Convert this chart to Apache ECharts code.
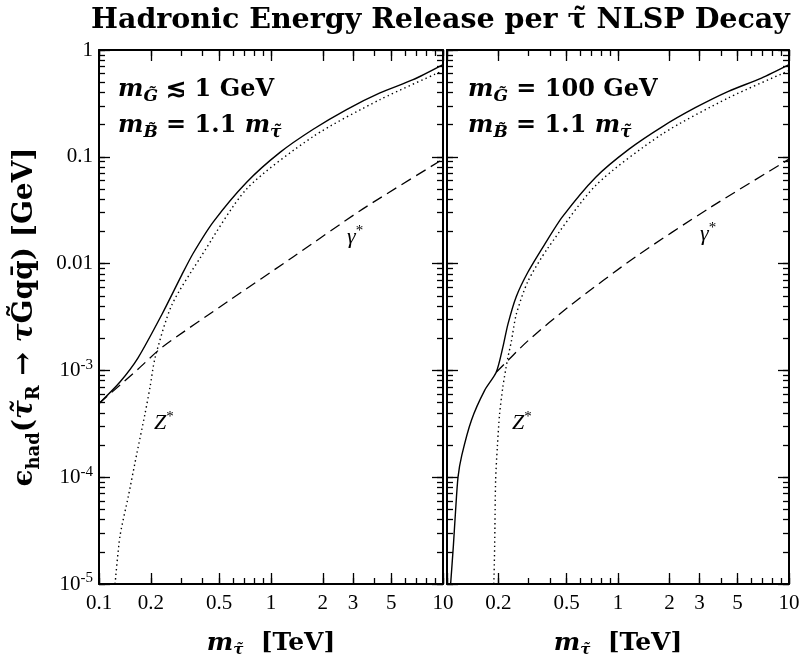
<!DOCTYPE html>
<html><head><meta charset="utf-8">
<script src="https://cdn.jsdelivr.net/npm/echarts@6/dist/echarts.min.js"></script>
<style>html,body{margin:0;padding:0;background:#fff}#c{width:803px;height:663px}</style>
</head><body><div id="c"></div>
<script>
// ---- tick labels ----
const xTickVals = [0.1, 0.2, 0.5, 1, 2, 3, 5, 10];
const xTickText = ['0.1', '0.2', '0.5', '1', '2', '3', '5', '10'];
const xTickValsRight = [0.2, 0.5, 1, 2, 3, 5, 10];
const yTickVals = [1e-5, 1e-4, 1e-3, 0.01, 0.1, 1];
const yTickText = ['{n|10}{p|-5}', '{n|10}{p|-4}', '{n|10}{p|-3}', '{n|0.01}', '{n|0.1}', '{n|1}'];

// ---- left panel: m_G <~ 1 GeV ----
const leftTotalX = [0.1, 0.1324, 0.169, 0.232, 0.303, 0.353, 0.462, 0.722, 1.128, 1.76, 2.75, 4.3, 6.7, 10];
const leftTotalY = [4.9e-4, 7.8e-4, 1.32e-3, 3.34e-3, 7.85e-3, 0.0125, 0.0246, 0.0578, 0.11, 0.181, 0.277, 0.396, 0.527, 0.73];
const leftZX = [0.124, 0.1324, 0.148, 0.166, 0.185, 0.198, 0.212, 0.265, 0.386, 0.722, 1.76, 4.3, 10];
const leftZY = [1e-5, 2.8e-5, 6.6e-5, 1.67e-4, 3.9e-4, 6.97e-4, 1.32e-3, 4.1e-3, 0.0112, 0.05, 0.155, 0.343, 0.64];
const leftGX = [0.1, 0.169, 0.232, 0.565, 1.35, 3.44, 10];
const leftGY = [4.9e-4, 1.03e-3, 1.64e-3, 4.45e-3, 0.0116, 0.0327, 0.095];

// ---- right panel: m_G = 100 GeV ----
const rightTotalX = [0.105, 0.109, 0.112, 0.116, 0.122, 0.139, 0.166, 0.194, 0.212, 0.227, 0.254, 0.297, 0.371, 0.474, 0.741, 1.16, 1.81, 2.83, 4.42, 6.9, 10];
const rightTotalY = [1e-5, 2.3e-5, 4.6e-5, 1.0e-4, 1.6e-4, 3.42e-4, 6.5e-4, 9.6e-4, 1.64e-3, 2.7e-3, 4.9e-3, 8.3e-3, 0.015, 0.0275, 0.0644, 0.118, 0.191, 0.288, 0.41, 0.546, 0.73];
const rightZX = [0.188, 0.190, 0.1925, 0.197, 0.203, 0.212, 0.220, 0.227, 0.238, 0.254, 0.297, 0.388, 0.741, 1.81, 4.42, 10];
const rightZY = [1e-5, 2.3e-5, 9.5e-5, 1.93e-4, 3.9e-4, 6.97e-4, 1.0e-3, 1.32e-3, 1.88e-3, 3.34e-3, 6.8e-3, 0.0139, 0.054, 0.163, 0.356, 0.64];
const rightGX = [0.194, 0.297, 0.531, 1.27, 3.38, 10];
const rightGY = [9.6e-4, 1.89e-3, 4.1e-3, 0.0116, 0.0327, 0.095];

const pairs = (xs, ys) => xs.map((x, i) => [x, ys[i]]);

// minor tick positions (log sub-decades)
const xMinor = [];
for (let k = -1; k <= 0; k++) for (let d = 1; d <= 9; d++) xMinor.push(d * Math.pow(10, k));
xMinor.push(10);
const yMinor = [];
for (let k = -5; k <= -1; k++) for (let d = 1; d <= 9; d++) yMinor.push(d * Math.pow(10, k));
yMinor.push(1);

const SERIF = '"Liberation Serif", "DejaVu Serif", serif';
const BOLD = '"DejaVu Serif", serif';

function near(v, arr) {
  let best = 0;
  for (let i = 1; i < arr.length; i++) if (Math.abs(Math.log10(arr[i]) - Math.log10(v)) < Math.abs(Math.log10(arr[best]) - Math.log10(v))) best = i;
  return best;
}

const xAxisName = '{m|m}{s|τ̃}{b|  [TeV]}';
const xNameRich = {
  m: { fontFamily: BOLD, fontWeight: 'bold', fontStyle: 'italic', fontSize: 25, color: '#000', lineHeight: 30, verticalAlign: 'middle' },
  s: { fontFamily: BOLD, fontWeight: 'bold', fontStyle: 'italic', fontSize: 15, color: '#000', lineHeight: 15, verticalAlign: 'bottom' },
  b: { fontFamily: BOLD, fontWeight: 'bold', fontSize: 25, color: '#000', lineHeight: 30, verticalAlign: 'middle' }
};

function xAxes(grid, labelVals) {
  const base = { type: 'log', logBase: 10, min: 0.1, max: 10, gridIndex: grid, splitLine: { show: false } };
  return [
    Object.assign({}, base, {
      position: 'bottom',
      axisLine: { show: true, lineStyle: { color: '#000', width: 2 } },
      axisTick: { show: true, inside: true, length: 11, customValues: xTickVals, lineStyle: { color: '#000', width: 1.3 } },
      axisLabel: { show: true, customValues: labelVals, margin: 9, fontFamily: SERIF, fontSize: 21, color: '#000',
        formatter: v => xTickText[near(v, xTickVals)] },
      name: xAxisName, nameLocation: 'middle', nameGap: 44,
      nameTextStyle: { rich: xNameRich }
    }),
    Object.assign({}, base, {
      position: 'bottom',
      axisLine: { show: false },
      axisTick: { show: true, inside: true, length: 6, customValues: xMinor, lineStyle: { color: '#000', width: 1.3 } },
      axisLabel: { show: false }
    }),
    Object.assign({}, base, {
      position: 'top',
      axisLine: { show: true, lineStyle: { color: '#000', width: 2 } },
      axisTick: { show: true, inside: true, length: 11, customValues: xTickVals, lineStyle: { color: '#000', width: 1.3 } },
      axisLabel: { show: false }
    }),
    Object.assign({}, base, {
      position: 'top',
      axisLine: { show: false },
      axisTick: { show: true, inside: true, length: 6, customValues: xMinor, lineStyle: { color: '#000', width: 1.3 } },
      axisLabel: { show: false }
    })
  ];
}

const yName = '{e|ϵ}{s|had}{e|(}{t|τ̃}{s|R}{e| → }{t|τ}{e|G̃qq̄) [GeV]}';
const yNameRich = {
  e: { fontFamily: BOLD, fontWeight: 'bold', fontSize: 28, color: '#000', lineHeight: 36, verticalAlign: 'middle' },
  t: { fontFamily: BOLD, fontWeight: 'bold', fontStyle: 'italic', fontSize: 28, color: '#000', lineHeight: 36, verticalAlign: 'middle' },
  s: { fontFamily: BOLD, fontWeight: 'bold', fontSize: 18, color: '#000', lineHeight: 18, verticalAlign: 'bottom' }
};

function yAxes(grid, showLabels) {
  const base = { type: 'log', logBase: 10, min: 1e-5, max: 1, gridIndex: grid, splitLine: { show: false } };
  const major = {
    position: 'left',
    axisLine: { show: true, lineStyle: { color: '#000', width: 2 } },
    axisTick: { show: true, inside: true, length: 11, customValues: yTickVals, lineStyle: { color: '#000', width: 1.3 } },
    axisLabel: { show: false }
  };
  if (showLabels) {
    major.axisLabel = { show: true, customValues: yTickVals, margin: 6, fontFamily: SERIF, fontSize: 21, color: '#000',
      formatter: v => yTickText[near(v, yTickVals)],
      rich: {
        n: { fontFamily: SERIF, fontSize: 21, color: '#000', lineHeight: 26, verticalAlign: 'middle' },
        p: { fontFamily: SERIF, fontSize: 15, color: '#000', lineHeight: 14, verticalAlign: 'top' }
      } };
    major.name = yName;
    major.nameLocation = 'middle';
    major.nameGap = 56;
    major.nameRotate = 90;
    major.nameTextStyle = { rich: yNameRich };
  }
  return [
    Object.assign({}, base, major),
    Object.assign({}, base, {
      position: 'left', axisLine: { show: false },
      axisTick: { show: true, inside: true, length: 6, customValues: yMinor, lineStyle: { color: '#000', width: 1.3 } },
      axisLabel: { show: false }
    }),
    Object.assign({}, base, {
      position: 'right',
      axisLine: { show: true, lineStyle: { color: '#000', width: 2 } },
      axisTick: { show: true, inside: true, length: 11, customValues: yTickVals, lineStyle: { color: '#000', width: 1.3 } },
      axisLabel: { show: false }
    }),
    Object.assign({}, base, {
      position: 'right', axisLine: { show: false },
      axisTick: { show: true, inside: true, length: 6, customValues: yMinor, lineStyle: { color: '#000', width: 1.3 } },
      axisLabel: { show: false }
    })
  ];
}

function line(data, xi, yi, type) {
  const ls = { color: '#000', width: 1.4 };
  if (type === 'dashed') { ls.type = [11, 6]; ls.width = 1.3; }
  if (type === 'dotted') { ls.type = [1.4, 3.2]; ls.width = 1.4; }
  return { type: 'line', data: data, xAxisIndex: xi, yAxisIndex: yi, showSymbol: false, symbol: 'none',
    smooth: 0.25, lineStyle: ls, clip: true, animation: false, z: 5 };
}

const annoRich = {
  m: { fontFamily: BOLD, fontWeight: 'bold', fontStyle: 'italic', fontSize: 24, fill: '#000', lineHeight: 30, verticalAlign: 'middle' },
  s: { fontFamily: BOLD, fontWeight: 'bold', fontStyle: 'italic', fontSize: 17, fill: '#000', lineHeight: 17, verticalAlign: 'bottom' },
  b: { fontFamily: BOLD, fontWeight: 'bold', fontSize: 24, fill: '#000', lineHeight: 30, verticalAlign: 'middle' }
};
function anno(x, y, text) {
  return { type: 'text', left: x, top: y, z: 10, style: { text: text, rich: annoRich } };
}
function lab(x, y, main) {
  return { type: 'text', left: x, top: y, z: 10, style: { text: '{a|' + main + '}{p|*}', rich: {
    a: { fontFamily: SERIF, fontStyle: 'italic', fontSize: 22, fill: '#000', lineHeight: 26, verticalAlign: 'middle' },
    p: { fontFamily: SERIF, fontSize: 15, fill: '#000', lineHeight: 14, verticalAlign: 'top' } } } };
}

const option = {
  animation: false,
  backgroundColor: '#fff',
  title: {
    text: 'Hadronic Energy Release per τ̃ NLSP Decay', left: 86, top: 1,
    textStyle: { fontFamily: BOLD, fontWeight: 'bold', fontSize: 28.5, color: '#000' }
  },
  grid: [
    { left: 99, top: 50, width: 344, height: 538, containLabel: false },
    { left: 447, top: 50, width: 342, height: 538, containLabel: false }
  ],
  xAxis: [].concat(xAxes(0, xTickVals), xAxes(1, xTickValsRight)),
  yAxis: [].concat(yAxes(0, true), yAxes(1, false)),
  series: [
    line(pairs(leftTotalX, leftTotalY), 0, 0, 'solid'),
    line(pairs(leftZX, leftZY), 0, 0, 'dotted'),
    line(pairs(leftGX, leftGY), 0, 0, 'dashed'),
    line(pairs(rightTotalX, rightTotalY), 4, 4, 'solid'),
    line(pairs(rightZX, rightZY), 4, 4, 'dotted'),
    line(pairs(rightGX, rightGY), 4, 4, 'dashed')
  ],
  graphic: [
    anno(118, 78, '{m|m}{s|G̃}{b| ≲ 1 GeV}'),
    anno(118, 114, '{m|m}{s|B̃}{b| = 1.1 }{m|m}{s|τ̃}'),
    anno(468, 78, '{m|m}{s|G̃}{b| = 100 GeV}'),
    anno(468, 114, '{m|m}{s|B̃}{b| = 1.1 }{m|m}{s|τ̃}'),
    lab(347, 224, 'γ'),
    lab(700, 221, 'γ'),
    lab(154, 410, 'Z'),
    lab(512, 410, 'Z')
  ]
};

const chart = echarts.init(document.getElementById('c'), null, { renderer: 'canvas' });
chart.setOption(option);
</script>
</body></html>
